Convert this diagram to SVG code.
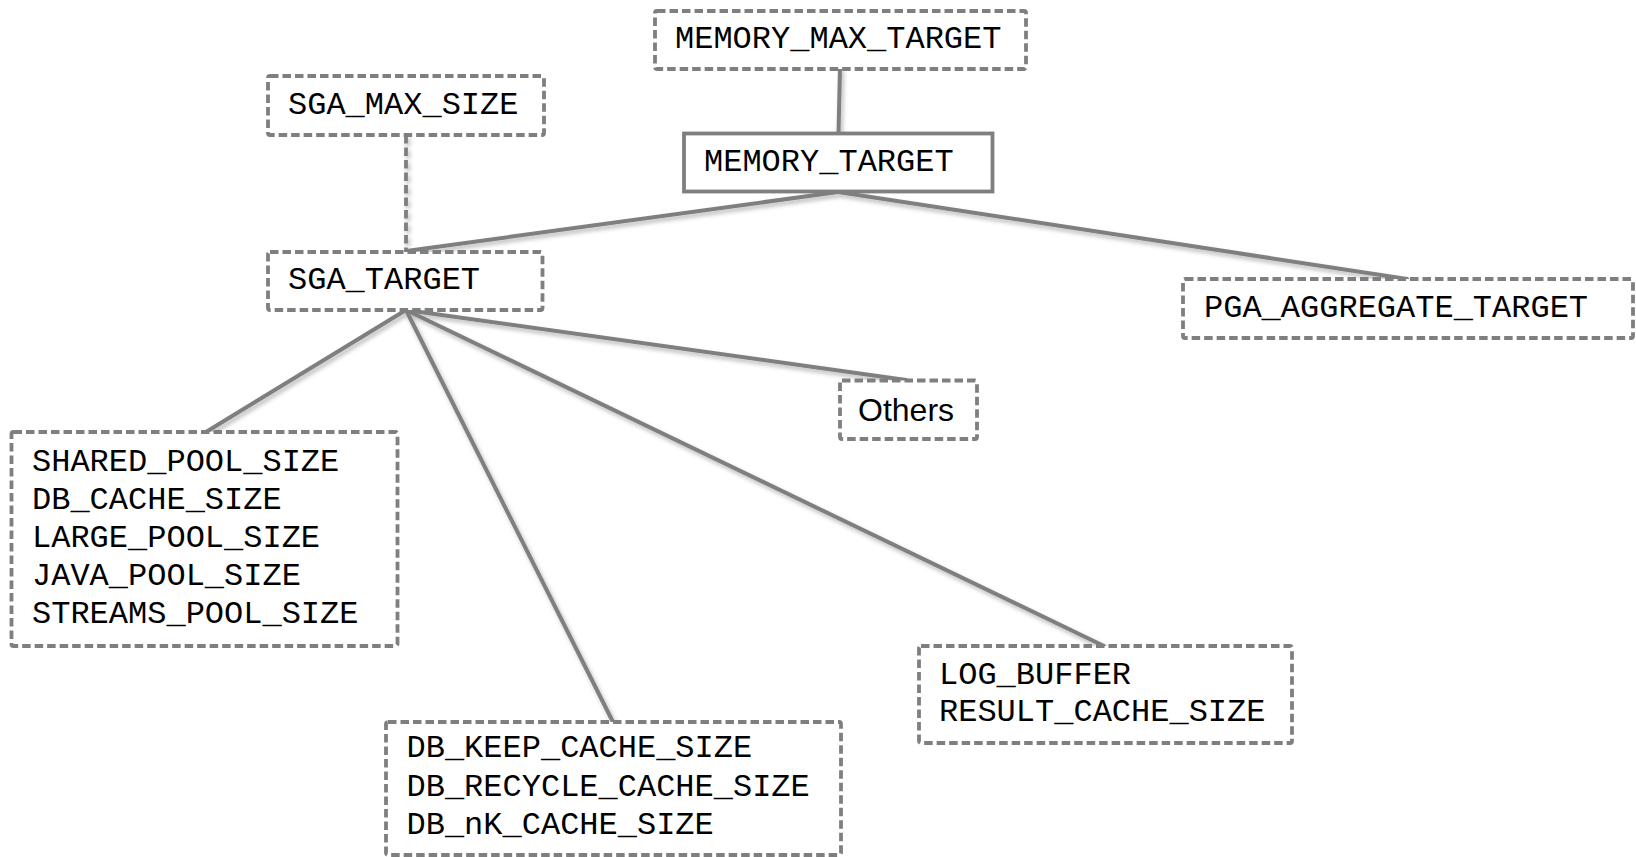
<svg xmlns="http://www.w3.org/2000/svg" width="1636" height="857" viewBox="0 0 1636 857">
  <defs>
    <filter id="lineShadow" x="-10%" y="-10%" width="120%" height="120%">
      <feDropShadow dx="2" dy="3" stdDeviation="2" flood-color="#000" flood-opacity="0.28"/>
    </filter>
    <style>
      .box { fill: #ffffff; stroke: #7f7f7f; stroke-width: 3.8; stroke-dasharray: 8.5 4; }
      .solid { fill: #ffffff; stroke: #7f7f7f; stroke-width: 3.8; }
      .mono { font-family: "Liberation Mono", "Courier New", monospace; font-size: 32px; fill: #000; }
      .sans { font-family: "Liberation Sans", Arial, sans-serif; font-size: 32px; fill: #000; }
      .link { stroke: #7f7f7f; stroke-width: 4; fill: none; stroke-linecap: round; }
      .dashlink { stroke: #7f7f7f; stroke-width: 3.8; fill: none; stroke-dasharray: 8.5 4; }
    </style>
  </defs>

  <rect width="1636" height="857" fill="#ffffff"/>

  <!-- connectors -->
  <g id="connectors" filter="url(#lineShadow)">
    <line class="link" x1="840" y1="69" x2="838.5" y2="133"/>
    <line class="dashlink" x1="406" y1="135" x2="406" y2="252"/>
    <line class="link" x1="838" y1="192" x2="406.5" y2="251"/>
    <line class="link" x1="838" y1="192" x2="1407" y2="279"/>
    <line class="link" x1="406" y1="310" x2="206" y2="432"/>
    <line class="link" x1="406" y1="310" x2="613" y2="722"/>
    <line class="link" x1="406" y1="310" x2="1104" y2="646"/>
    <line class="link" x1="406" y1="310" x2="906" y2="380"/>
  </g>

  <g id="memory_max_target">
    <rect class="box" x="655" y="11" width="371" height="58" rx="2"/>
    <text class="mono" x="675" y="47.5">MEMORY_MAX_TARGET</text>
  </g>

  <g id="sga_max_size">
    <rect class="box" x="268" y="76" width="276" height="59" rx="2"/>
    <text class="mono" x="288" y="114">SGA_MAX_SIZE</text>
  </g>

  <g id="memory_target">
    <rect class="solid" x="684" y="133.5" width="308.5" height="58"/>
    <text class="mono" x="704" y="170.5">MEMORY_TARGET</text>
  </g>

  <g id="sga_target">
    <rect class="box" x="268" y="252" width="274.5" height="58" rx="2"/>
    <text class="mono" x="288" y="289">SGA_TARGET</text>
  </g>

  <g id="pga_aggregate_target">
    <rect class="box" x="1183" y="279" width="450" height="59" rx="2"/>
    <text class="mono" x="1204" y="317">PGA_AGGREGATE_TARGET</text>
  </g>

  <g id="others">
    <rect class="box" x="840" y="380.5" width="137" height="58.5" rx="2"/>
    <text class="sans" x="858" y="421">Others</text>
  </g>

  <g id="pool_sizes">
    <rect class="box" x="11.5" y="432" width="386" height="214" rx="2"/>
    <text class="mono" x="32" y="470.5">SHARED_POOL_SIZE</text>
    <text class="mono" x="32" y="508.5">DB_CACHE_SIZE</text>
    <text class="mono" x="32" y="546.5">LARGE_POOL_SIZE</text>
    <text class="mono" x="32" y="584.5">JAVA_POOL_SIZE</text>
    <text class="mono" x="32" y="622.5">STREAMS_POOL_SIZE</text>
  </g>

  <g id="cache_sizes">
    <rect class="box" x="386" y="722" width="455" height="133" rx="2"/>
    <text class="mono" x="406.5" y="757">DB_KEEP_CACHE_SIZE</text>
    <text class="mono" x="406.5" y="795.5">DB_RECYCLE_CACHE_SIZE</text>
    <text class="mono" x="406.5" y="834">DB_nK_CACHE_SIZE</text>
  </g>

  <g id="buffer_sizes">
    <rect class="box" x="919" y="646" width="373" height="97" rx="2"/>
    <text class="mono" x="939" y="683.5">LOG_BUFFER</text>
    <text class="mono" x="939" y="721">RESULT_CACHE_SIZE</text>
  </g>
</svg>
